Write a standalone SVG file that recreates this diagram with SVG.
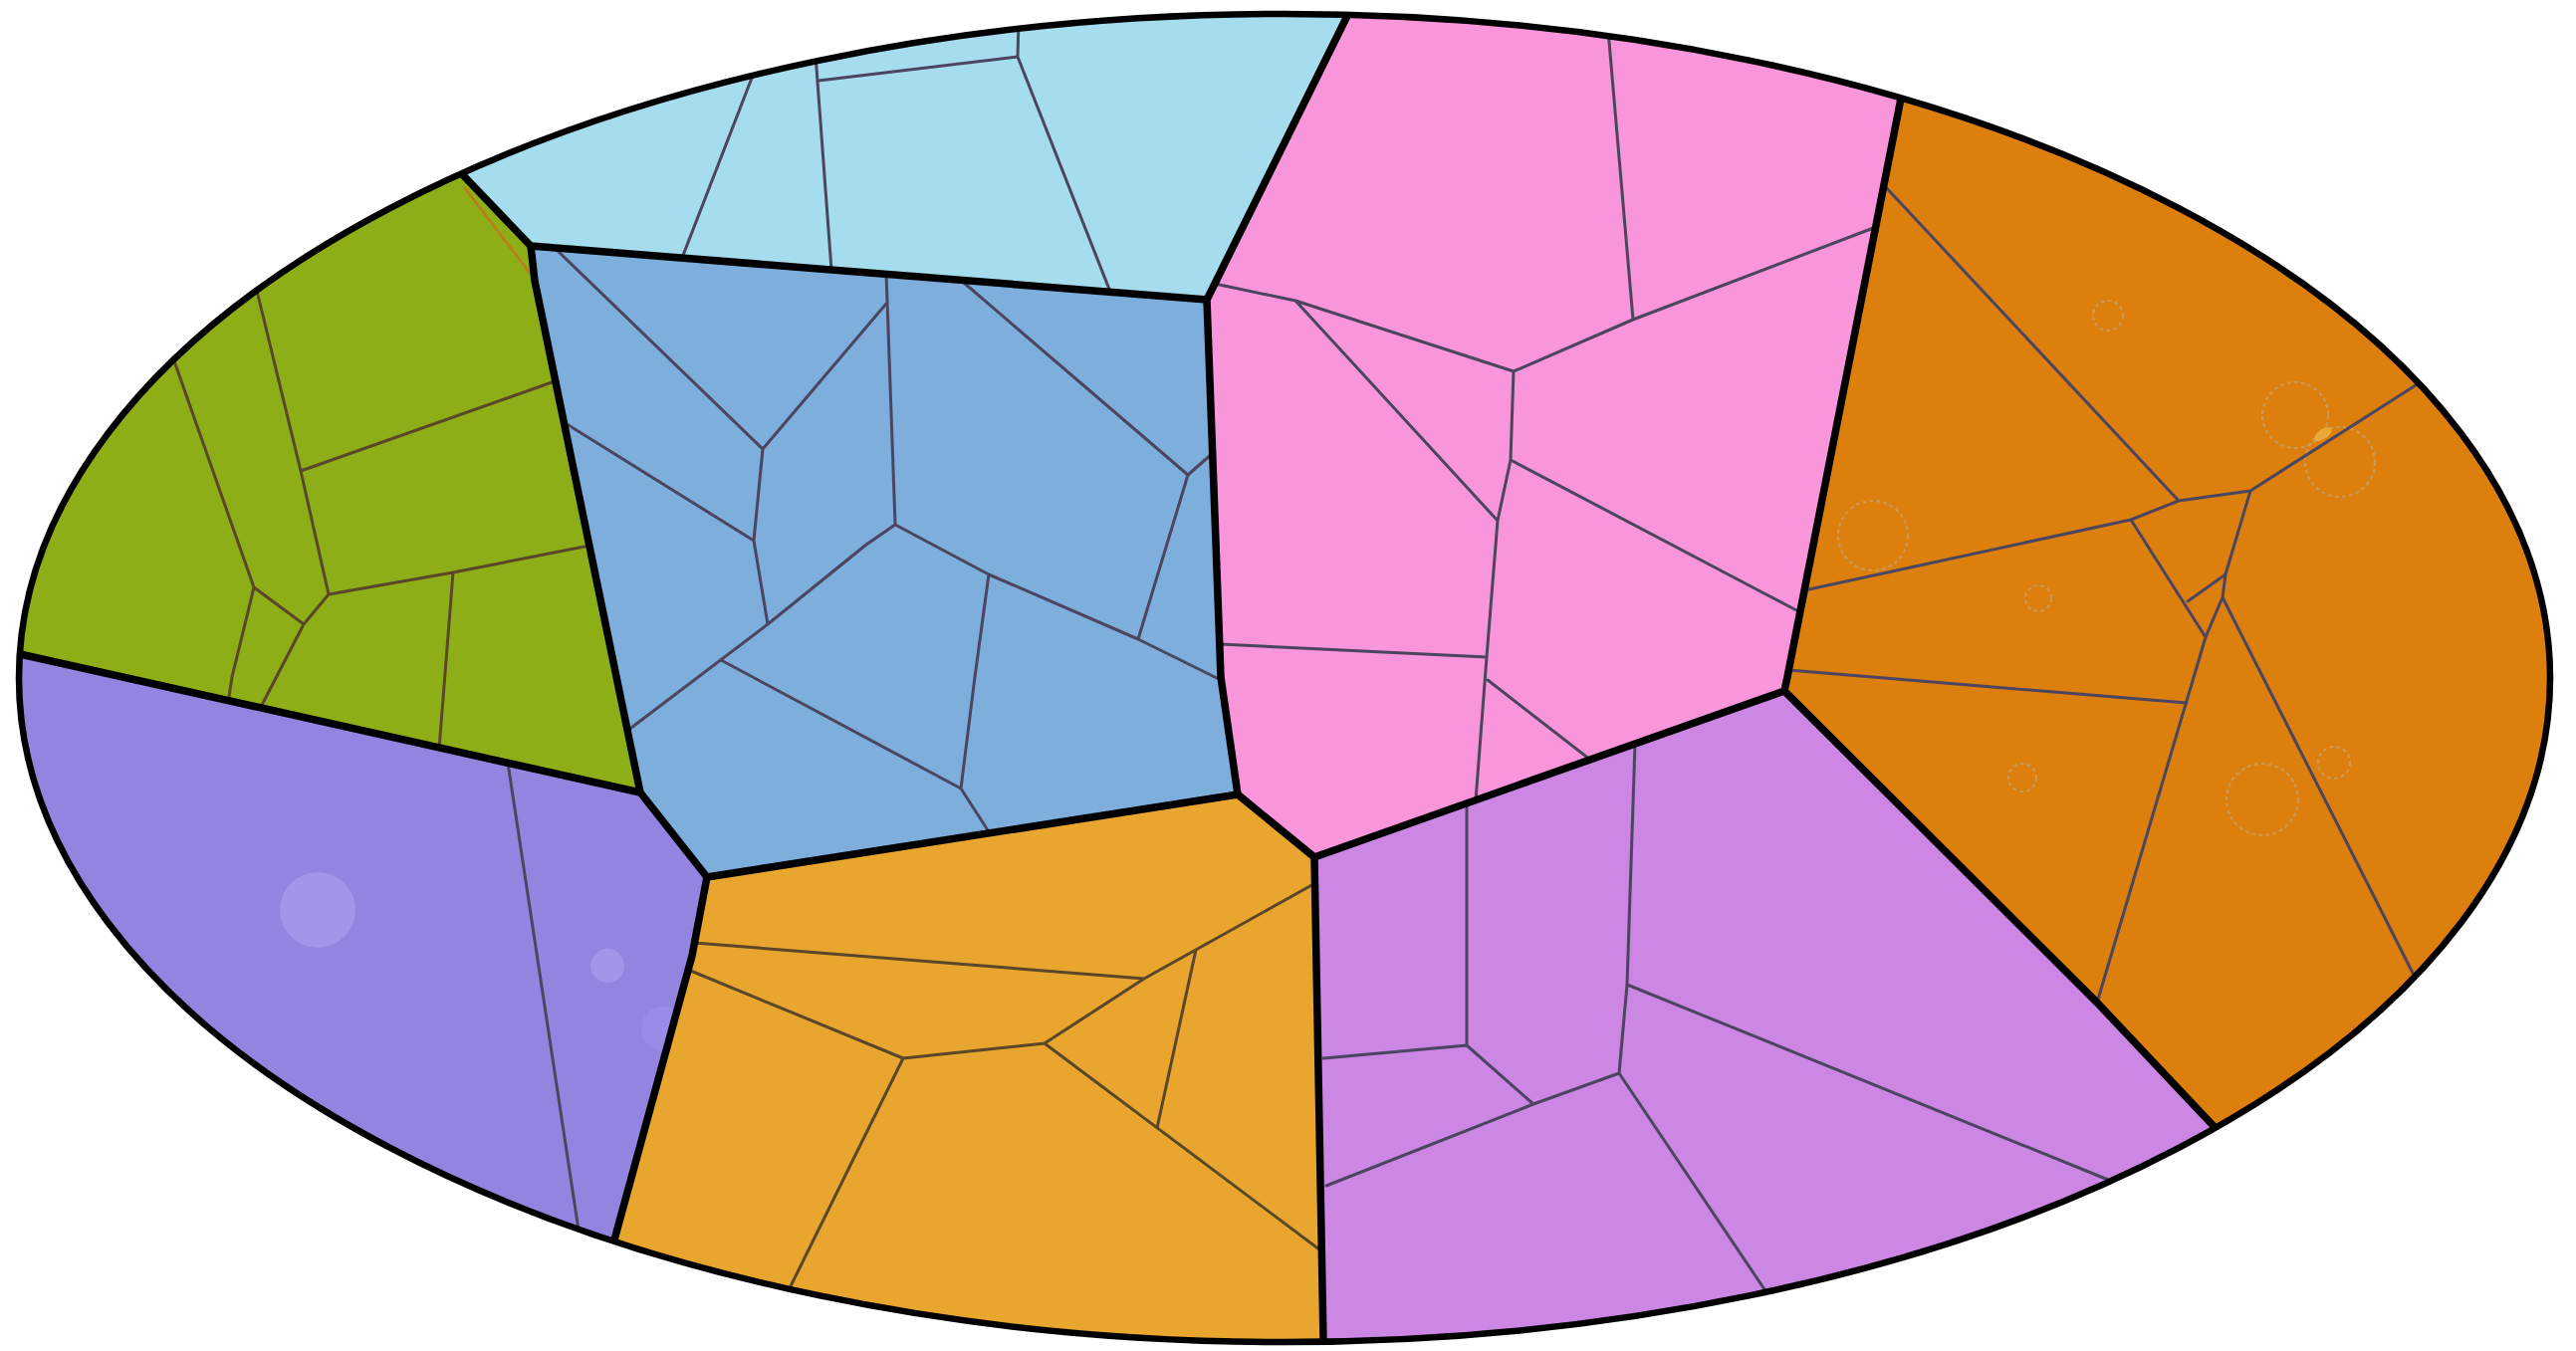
<svg xmlns="http://www.w3.org/2000/svg" width="2587" height="1357" viewBox="0 0 2587 1357">
<defs>
<clipPath id="oval"><ellipse cx="1290" cy="681" rx="1271" ry="667"/></clipPath>
<clipPath id="purpleClip"><polygon points="-61,639 20,657 643,796 710,881 695,960 616,1249 588,1359 588,1460 -100,1460 -100,639"/></clipPath>
<style>
.thin{fill:none;stroke:#4b4560;stroke-width:3;stroke-linejoin:round;stroke-linecap:round}
.brown{fill:none;stroke:#5a4628;stroke-width:3;stroke-linejoin:round;stroke-linecap:round}
.thick{fill:none;stroke:#000;stroke-width:7.5;stroke-linejoin:round;stroke-linecap:round}
.ring{fill:none;stroke:#c9a064;stroke-width:2.2;stroke-dasharray:4 3;opacity:0.8}
.spot{fill:#a295ea}
</style>
</defs>
<rect width="2587" height="1357" fill="#fff"/>
<g clip-path="url(#oval)">
<g id="region-lightblue">
<polygon fill="#a5dcee" points="401,109 467,178 533,247 1212,301 1351,20 1379,-36 1379,-100 401,-100"/>
<path class="thin" d="M759,68 L685,259 M819,55 L835,271 M822,81 L1022,57 M1023,22 L1022,57 M1022,57 L1115,293"/>
</g>
<g id="region-green">
<polygon fill="#8dae17" points="-61,639 20,657 643,796 537,282 533,247 467,178 401,109 401,-100 -100,-100 -100,639"/>
<path class="brown" d="M257,288 L302,473 L330,597 M302,473 L557,383 M330,597 L455,575 L592,548 M173,357 L255,590 L305,627 M330,597 L305,627 L261,712 M255,590 L233,680 L229,706 M455,575 L441,752"/>
<path fill="none" stroke="#c0781a" stroke-width="2.4" d="M466,188 L532,274"/>
</g>
<g id="region-lavender">
<polygon fill="#9385df" points="-61,639 20,657 643,796 710,881 695,960 616,1249 588,1359 588,1460 -100,1460 -100,639"/>
<g clip-path="url(#purpleClip)">
<circle class="spot" cx="319" cy="914" r="38"/>
<circle class="spot" cx="610" cy="970" r="17"/>
<circle cx="666" cy="1033" r="22" fill="#9a8ce6"/>
</g>
<path class="thin" d="M510,766 L582,1242"/>
</g>
<g id="region-blue">
<polygon fill="#7daedc" points="533,247 1212,301 1226,680 1243,798 710,881 643,796 537,282"/>
<path class="thin" d="M558,250 L766,451 L890,305 M890,274 L899,527 M766,451 L757,543 L771,627 M566,424 L757,543 M630,734 L771,627 L870,547 L899,527 L993,577 L1143,642 L1228,684 M993,577 L979,680 L965,792 L994,837 M724,663 L965,792 M968,284 L1193,477 L1218,455 M1193,477 L1143,642"/>
</g>
<g id="region-yellow">
<polygon fill="#e8a62f" points="710,881 1243,798 1320,861 1329,1347 1330,1420 1330,1460 588,1460 588,1359 616,1249 695,960"/>
<path class="brown" d="M697,947 L1149,983 M691,974 L907,1063 L1049,1048 L1149,983 L1321,887 M1049,1048 L1325,1255 M1201,954 L1162,1133 M907,1063 L789,1302"/>
</g>
<g id="region-violet">
<polygon fill="#cc86e3" points="1320,861 1792,694 2106,1007 2222,1130 2351,1261 2351,1460 1330,1460 1330,1420 1329,1347"/>
<path class="thin" d="M1473,806 L1473,1050 L1329,1063 M1473,1050 L1540,1109 M1642,747 L1634,989 L1626,1078 L1540,1109 L1332,1191 M1634,989 L2127,1189 M1626,1078 L1778,1304"/>
</g>
<g id="region-orange">
<polygon fill="#dc7f0d" points="1931,-14 1908,104 1795,680 1792,694 2106,1007 2222,1130 2351,1261 2351,1460 2700,1460 2700,-100 1931,-100"/>
<circle class="ring" cx="2117" cy="317" r="15"/>
<circle class="ring" cx="2305" cy="417" r="33"/>
<circle class="ring" cx="2350" cy="464" r="35"/>
<circle class="ring" cx="1881" cy="538" r="35"/>
<circle class="ring" cx="2047" cy="601" r="13"/>
<circle class="ring" cx="2031" cy="781" r="14"/>
<circle class="ring" cx="2272" cy="803" r="36"/>
<circle class="ring" cx="2344" cy="766" r="16"/>
<ellipse cx="2333" cy="436" rx="10" ry="5" fill="#eba838" transform="rotate(-35 2333 436)"/>
<path class="thin" d="M1812,593 L2140,522 L2188,503 L2260,493 L2440,378 M1891,185 L2188,503 M2140,522 L2215,640 L2106,1007 M2260,493 L2235,577 L2232,600 L2215,640 M2235,577 L2197,604 M2232,600 L2432,995 M1796,673 L2196,706"/>
</g>
<g id="region-pink">
<polygon fill="#f996db" points="1351,20 1379,-36 1379,-100 1931,-100 1931,-14 1908,104 1795,680 1792,694 1320,861 1243,798 1226,680 1212,301"/>
<path class="thin" d="M1615,30 L1640,321 L1520,373 L1301,302 L1220,285 M1640,321 L1884,228 M1301,302 L1504,523 M1520,373 L1517,462 L1504,523 L1493,660 L1482,804 M1517,462 L1806,614 M1225,647 L1493,660 M1494,683 L1597,763"/>
</g>
<g id="borders">
<path class="thick" d="M401,109 L467,178 L533,247 L1212,301 L1351,20 L1379,-36"/>
<path class="thick" d="M533,247 L537,282 L643,796 L20,657 L-61,639"/>
<path class="thick" d="M643,796 L710,881 L695,960 L616,1249 L588,1359"/>
<path class="thick" d="M710,881 L1243,798 L1320,861 L1329,1347 L1330,1420"/>
<path class="thick" d="M1212,301 L1226,680 L1243,798"/>
<path class="thick" d="M1320,861 L1792,694 L2106,1007 L2222,1130 L2351,1261"/>
<path class="thick" d="M1931,-14 L1908,104 L1795,680 L1792,694"/>
</g>
</g>
<ellipse cx="1290" cy="681" rx="1271" ry="667" fill="none" stroke="#000" stroke-width="6.5"/>
</svg>
